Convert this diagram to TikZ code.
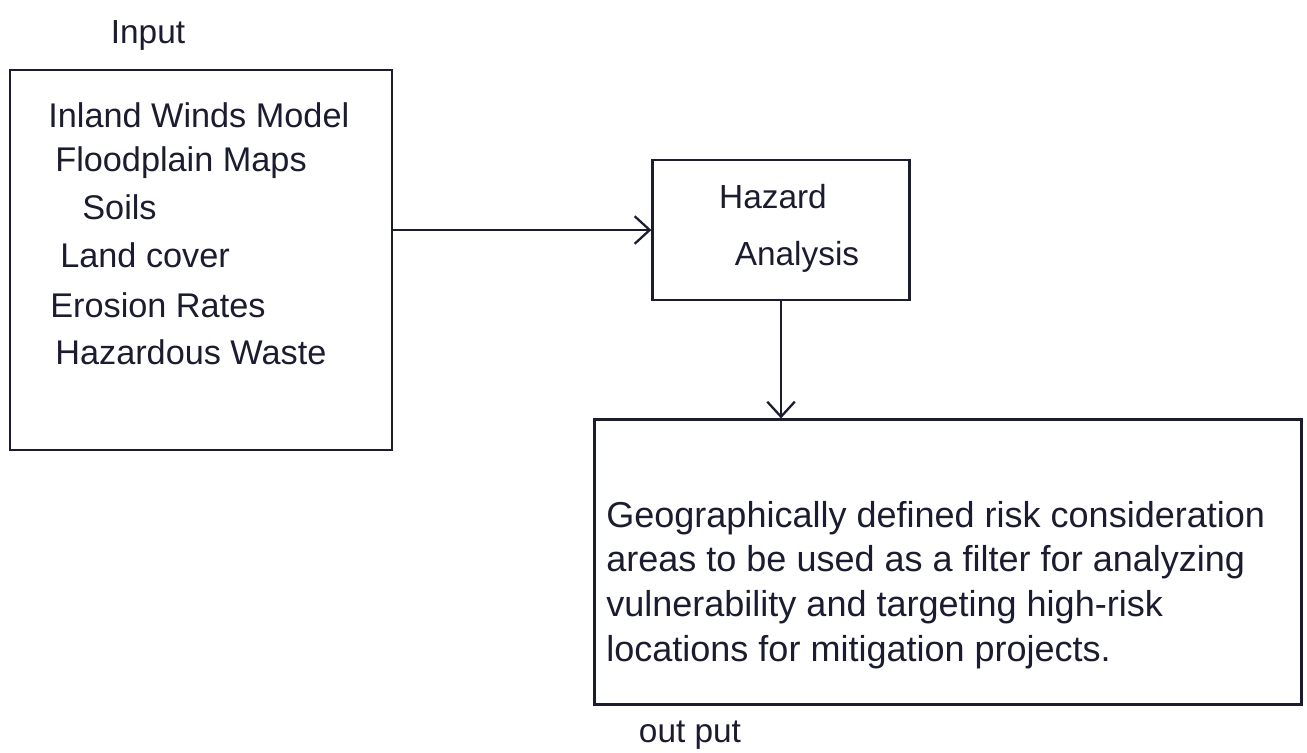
\documentclass[tikz,border=0pt]{standalone}
\usepackage{fontspec}
\setmainfont{Liberation Sans}
\usepackage{tikz}
\usetikzlibrary{positioning}
\usetikzlibrary{arrows.meta}
\definecolor{ink}{RGB}{28,28,48}
\tikzstyle{block}=[rectangle,draw=ink,line width=1.3pt,inner sep=0pt]
\tikzstyle{item}=[anchor=west,inner sep=0pt,text=ink,font=\fontsize{19.5}{24}\selectfont]
\tikzstyle{title}=[inner sep=0pt,text=ink,font=\fontsize{19}{24}\selectfont]
\tikzstyle{edge}=[draw=ink,line width=1.3pt,-{Straight Barb[length=3mm,width=5.5mm]}]

\begin{document}
\begin{tikzpicture}[x=0.02cm,y=-0.02cm]
    \useasboundingbox (0,0) rectangle (1307,752);
    % the three boxes
    \node[block,minimum width=7.64cm,minimum height=7.6cm] (input) at (201,260) {};
    \node[block,minimum width=5.14cm,minimum height=2.8cm] (hazard) at (781,230) {};
    \node[block,minimum width=14.14cm,minimum height=5.7cm] (output) at (948,562) {};

    % captions
    \node[title] (intitle) at (148,35) {Input};
    \node[title] (outtitle) at (690,735) {out put};

    % input data sets
    \foreach \pos/\name/\label in {{(48,115)/winds/Inland Winds Model}, {(55,163)/flood/Floodplain Maps},
        {(82,207)/soils/Soils}, {(60,255)/cover/Land cover}, {(50,305)/erosion/Erosion Rates},
        {(55,352)/waste/Hazardous Waste}}
            \node[item] (\name) at \pos {\label};

    % hazard analysis
    \node[title] (hz1) at (773,197) {Hazard};
    \node[title] (hz2) at (797,257) {Analysis};

    % result
    \node[item,align=left,font=\fontsize{20.5}{25.5}\selectfont] (result) at (606,585) {Geographically defined risk consideration\\
        areas to be used as a filter for analyzing\\
        vulnerability and targeting high-risk\\
        locations for mitigation projects.};

    % connect the boxes
    \draw[edge] (hazard.west -| input.east) -- (hazard.west);
    \draw[edge] (hazard.south) -- (hazard.south |- output.north);
\end{tikzpicture}
\end{document}
